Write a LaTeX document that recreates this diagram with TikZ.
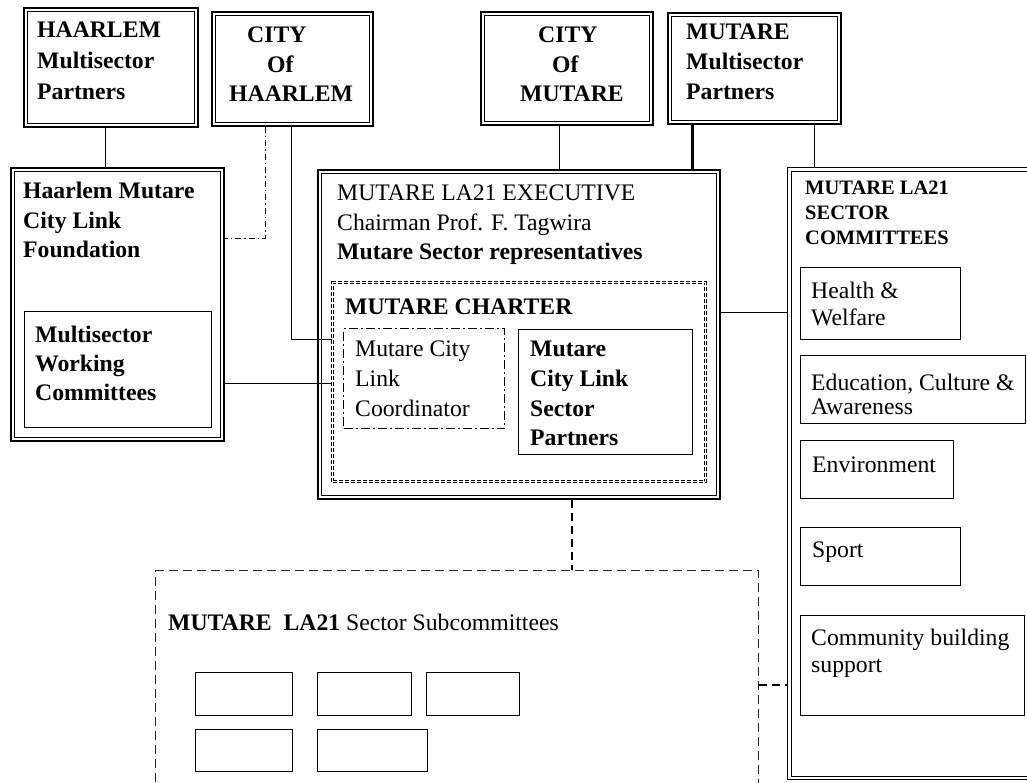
\documentclass[tikz,border=0pt]{standalone}
\usepackage{fontspec}
\setmainfont{Liberation Serif}
\begin{document}
\begin{tikzpicture}[x=1pt,y=-1pt,
  box/.style={draw, line width=0.8pt, inner sep=0pt, anchor=north west},
  dbox/.style={draw, line width=1.8pt, inner sep=0pt, anchor=north west,
    path picture={\draw[line width=0.8pt]
      ([shift={(3.5pt,-3.5pt)}]path picture bounding box.north west) rectangle
      ([shift={(-3.5pt,3.5pt)}]path picture bounding box.south east);}},
  dashbox/.style={draw, double, double distance=1.6pt, line width=1pt,
    dash pattern=on 4pt off 2pt, inner sep=0pt, anchor=north west},
  dotbox/.style={draw, line width=1.1pt, dash pattern=on 9pt off 3pt on 2pt off 3pt,
    inner sep=0pt, anchor=north west},
  subbox/.style={draw, black!85, line width=1.3pt, dash pattern=on 9pt off 5pt,
    inner sep=0pt, anchor=north west},
  txt/.style={inner sep=0pt, anchor=north west, align=left,
    font=\fontsize{23.7}{29.5}\selectfont},
  txtb/.style={txt, font=\fontsize{23.7}{29.5}\selectfont\bfseries},
  conn/.style={line width=0.8pt},
  thickconn/.style={line width=3pt},
  ddot/.style={line width=1pt, dash pattern=on 6pt off 3pt on 1.5pt off 3pt},
  dsh/.style={line width=1.2pt, dash pattern=on 8pt off 5pt}
]
\useasboundingbox (0,0) rectangle (1027,782);
\fill[white] (0,0) rectangle (1027,782);

% top row
\node[dbox, minimum width=174pt, minimum height=119pt] (hmp) at (23,7) {};
\node[txtb, font=\fontsize{23.7}{31}\selectfont\bfseries] (hmpT) at (37,22) {HAARLEM\\Multisector\\Partners};

\node[dbox, minimum width=161pt, minimum height=114pt] (ch) at (211,11) {};
\node[txtb] (chT) at (229,27) {\hspace*{18pt}CITY\\\hspace*{38pt}Of\\HAARLEM};

\node[dbox, minimum width=172pt, minimum height=113pt] (cm) at (480,11) {};
\node[txtb] (cmT) at (520,27) {\hspace*{18pt}CITY\\\hspace*{32pt}Of\\MUTARE};

\node[dbox, minimum width=173pt, minimum height=111pt] (mp) at (667,12) {};
\node[txtb, font=\fontsize{23.7}{30}\selectfont\bfseries] (mpT) at (686,24) {MUTARE\\Multisector\\Partners};

% foundation
\node[dbox, minimum width=213pt, minimum height=273pt] (found) at (10,167) {};
\node[txtb] (foundT) at (23,182) {Haarlem Mutare\\City Link\\Foundation};
\node[box, minimum width=187pt, minimum height=116pt] (wc) at (24,311) {};
\node[txtb, font=\fontsize{23.7}{29}\selectfont\bfseries] (wcT) at (35,326) {Multisector\\Working\\Committees};

% executive
\node[dbox, minimum width=402pt, minimum height=329pt] (exec) at (317,169) {};
\node[txt] (execT) at (337,185) {MUTARE LA21 EXECUTIVE\\Chairman Prof. F. Tagwira\\\textbf{Mutare Sector representatives}};
\node[dashbox, minimum width=373pt, minimum height=199pt] (charter) at (332,282) {};
\node[txtb] (charterT) at (345,299) {MUTARE CHARTER};
\node[dotbox, minimum width=161pt, minimum height=100pt] (coord) at (343,328) {};
\node[txt, font=\fontsize{23.7}{30}\selectfont] (coordT) at (355,341) {Mutare City\\Link\\Coordinator};
\node[box, line width=1.3pt, minimum width=174pt, minimum height=125pt] (cpart) at (518,329) {};
\node[txtb, font=\fontsize{23.7}{29.7}\selectfont\bfseries] (cpartT) at (530,341) {Mutare\\City Link\\Sector\\Partners};

% sector committees
\node[dbox, line width=1pt, minimum width=253pt, minimum height=612pt] (sector) at (787,167) {};
\node[txtb, font=\fontsize{20.5}{25}\selectfont\bfseries] (secT) at (805,181) {MUTARE LA21\\SECTOR\\COMMITTEES};
\node[box, minimum width=160pt, minimum height=72pt] (health) at (800,267) {};
\node[txt, font=\fontsize{23.7}{27}\selectfont] (healthT) at (811,282) {Health \&\\Welfare};
\node[box, minimum width=225pt, minimum height=68pt] (edu) at (800,355) {};
\node[txt, font=\fontsize{23.7}{24}\selectfont] (eduT) at (811,374) {Education, Culture \&\\Awareness};
\node[box, minimum width=153pt, minimum height=58pt] (env) at (800,440) {};
\node[txt] (envT) at (812,457) {Environment};
\node[box, minimum width=160pt, minimum height=58pt] (sport) at (800,527) {};
\node[txt] (sportT) at (812,542) {Sport};
\node[box, minimum width=224pt, minimum height=100pt] (comm) at (800,615) {};
\node[txt, font=\fontsize{23.7}{27}\selectfont] (commT) at (811,629) {Community building\\support};

% subcommittees
\node[subbox, minimum width=603pt, minimum height=230pt] (bottom) at (155,570) {};
\node[txt] (subT) at (168,614) {\textbf{MUTARE~~LA21} Sector Subcommittees};
\node[box, minimum width=97pt, minimum height=43pt] (s1) at (195,672) {};
\node[box, minimum width=94pt, minimum height=43pt] (s2) at (317,672) {};
\node[box, minimum width=93pt, minimum height=43pt] (s3) at (426,672) {};
\node[box, minimum width=97pt, minimum height=42pt] (s4) at (195,729) {};
\node[box, minimum width=110pt, minimum height=42pt] (s5) at (317,729) {};

% connectors
\coordinate (k0) at (105,150);
\draw[conn] (hmp.south -| k0) -- (found.north -| k0);
\coordinate (k1) at (265,238);
\draw[ddot] (ch.south -| k1) -- (k1) -- (k1 -| found.east);
\coordinate (k2) at (291,339);
\draw[conn] (ch.south -| k2) -- (k2) -- (k2 -| charter.west);
\coordinate (k3) at (300,383);
\draw[conn] (k3 -| found.east) -- (k3 -| charter.west);
\coordinate (k4) at (559,150);
\draw[conn] (cm.south -| k4) -- (exec.north -| k4);
\coordinate (k5) at (692,150);
\draw[thickconn] (mp.south -| k5) -- (exec.north -| k5);
\coordinate (k6) at (814,150);
\draw[conn] (mp.south -| k6) -- (sector.north -| k6);
\coordinate (k7) at (750,312);
\draw[conn] (k7 -| exec.east) -- (k7 -| sector.west);
\coordinate (k8) at (572,530);
\draw[dsh] (exec.south -| k8) -- (bottom.north -| k8);
\coordinate (k9) at (770,685);
\draw[dsh] (k9 -| bottom.east) -- (k9 -| sector.west);
\end{tikzpicture}
\end{document}
